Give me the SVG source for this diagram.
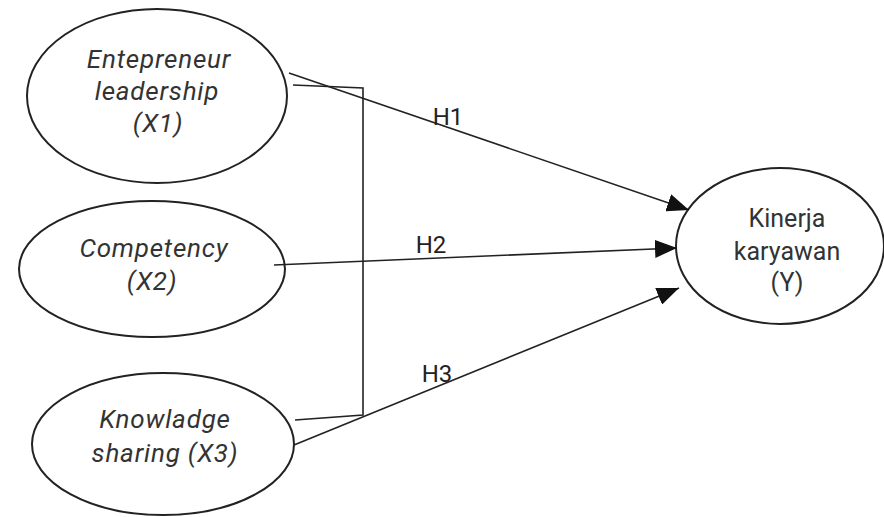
<svg xmlns="http://www.w3.org/2000/svg" width="884" height="517" viewBox="0 0 884 517">
<style>
.node{fill:#fff;stroke:#222;stroke-width:2}
.t{font-family:Roboto,"Liberation Sans",sans-serif;font-size:25px;fill:#333;text-anchor:middle}
.i{font-style:italic;font-size:26px;letter-spacing:0.8px}
.c{stroke:#222;stroke-width:1.6;fill:none}
.lbl{font-family:Roboto,"Liberation Sans",sans-serif;font-size:24px;fill:#222;text-anchor:middle}
</style>
<defs>
<marker id="ah2" viewBox="0 0 22 18" refX="22" refY="9" markerWidth="22" markerHeight="18" markerUnits="userSpaceOnUse" orient="auto">
<path d="M0,0 L22,9 L0,18 z" fill="#111"/>
</marker>
</defs>
<g id="x1">
<ellipse class="node" cx="157" cy="96" rx="130" ry="87"/>
<text class="t i" x="159" y="68">Entepreneur</text>
<text class="t i" x="157" y="100">leadership</text>
<text class="t i" x="158" y="132">(X1)</text>
</g>
<g id="x2">
<ellipse class="node" cx="152" cy="269" rx="133" ry="68"/>
<text class="t i" x="154" y="257">Competency</text>
<text class="t i" x="152" y="290">(X2)</text>
</g>
<g id="x3">
<ellipse class="node" cx="163" cy="444" rx="131" ry="71"/>
<text class="t i" x="165" y="428">Knowladge</text>
<text class="t i" x="165" y="462">sharing (X3)</text>
</g>
<g id="y">
<ellipse class="node" cx="780" cy="246" rx="104" ry="78"/>
<text class="t" x="787" y="227">Kinerja</text>
<text class="t" x="787" y="260">karyawan</text>
<text class="t" x="787" y="291">(Y)</text>
</g>
<g id="connectors">
<polyline class="c" points="293,85 363,88 363,415 295,420"/>
<line class="c" x1="289" y1="73" x2="689" y2="210" marker-end="url(#ah2)"/>
<line class="c" x1="274" y1="265" x2="677" y2="248" marker-end="url(#ah2)"/>
<line class="c" x1="294" y1="445" x2="679" y2="288" marker-end="url(#ah2)"/>
<text class="lbl" x="448" y="125">H1</text>
<text class="lbl" x="431" y="253">H2</text>
<text class="lbl" x="437" y="382">H3</text>
</g>
</svg>
